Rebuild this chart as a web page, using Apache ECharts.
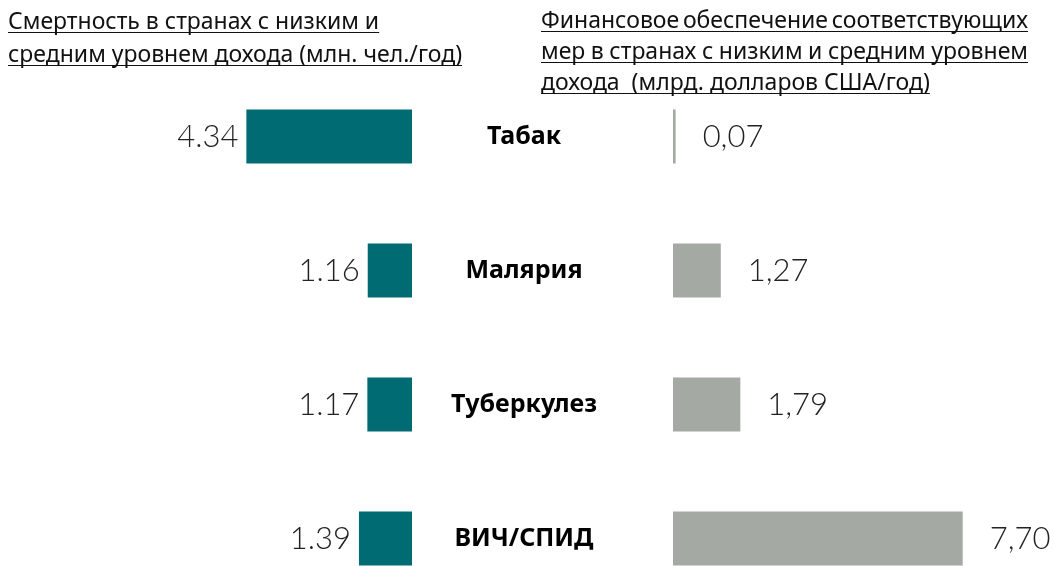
<!DOCTYPE html>
<html lang="ru" style="height: 100%">
<head>
  <meta charset="utf-8">
</head>
<body style="height: 100%; margin: 0; background: #fff; overflow: hidden">
  <div id="container" style="width: 1055px; height: 610px"></div>
  <script type="text/javascript" src="https://fastly.jsdelivr.net/npm/echarts@6/dist/echarts.min.js"></script>
  <script type="text/javascript">
var categories = ['Табак', 'Малярия', 'Туберкулез', 'ВИЧ/СПИД'];
var deaths = [4.34, 1.16, 1.17, 1.39];   // млн. чел./год
var funding = [0.07, 1.27, 1.79, 7.70];  // млрд. долларов США/год
var leftTitle = ['Смертность в странах с низким и', 'средним уровнем дохода (млн. чел./год)'];
var rightTitle = ['Финансовое обеспечение соответствующих', 'мер в странах с низким и средним уровнем', 'дохода  (млрд. долларов США/год)'];

var headFont = '"Noto Sans", sans-serif';
var headSize = 23;
var numFont = 'Lato, "Noto Sans", sans-serif';

var ctx = document.createElement('canvas').getContext('2d');
function textW(s) {
  ctx.font = headSize + 'px ' + headFont;
  return ctx.measureText(s).width;
}

// underlined header, optionally justified to a given width
function header(lines, x, midY, lineH, justW) {
  var els = [];
  lines.forEach(function (line, i) {
    var y = midY + i * lineH;
    var lineW = textW(line);
    if (justW && i < lines.length - 1) {
      var words = line.split(/\s+/);
      var sum = 0;
      words.forEach(function (w) { sum += textW(w); });
      var gap = (justW - sum) / (words.length - 1);
      var cx = x;
      words.forEach(function (w) {
        els.push({ type: 'text', x: cx, y: y, style: { text: w, font: headSize + 'px ' + headFont, fill: '#111', textVerticalAlign: 'middle' } });
        cx += textW(w) + gap;
      });
      lineW = justW;
    } else {
      els.push({ type: 'text', x: x, y: y, style: { text: line, font: headSize + 'px ' + headFont, fill: '#111', textVerticalAlign: 'middle' } });
    }
    els.push({ type: 'line', shape: { x1: x, y1: y + 10.5, x2: x + lineW, y2: y + 10.5 }, style: { stroke: '#111', lineWidth: 1 } });
  });
  return els;
}

var dom = document.getElementById('container');
var myChart = echarts.init(dom, null, { renderer: 'canvas' });

var option = {
  backgroundColor: '#fff',
  animation: false,
  graphic: header(leftTitle, 8, 22, 33, 0).concat(header(rightTitle, 541, 21, 31, 487)),
  grid: [
    { left: 183, width: 229, top: 69.5, height: 536 },
    { left: 673, width: 301, top: 69.5, height: 536 }
  ],
  xAxis: [
    { gridIndex: 0, type: 'value', inverse: true, min: 0, max: 6, show: false },
    { gridIndex: 1, type: 'value', min: 0, max: 8, show: false }
  ],
  yAxis: [
    {
      gridIndex: 0,
      type: 'category',
      data: categories,
      inverse: true,
      position: 'right',
      axisLine: { show: false },
      axisTick: { show: false },
      axisLabel: {
        margin: 112,
        align: 'center',
        fontFamily: '"Noto Sans", sans-serif',
        fontWeight: 'bold',
        fontSize: 25,
        color: '#000'
      }
    },
    { gridIndex: 1, type: 'category', data: categories, inverse: true, show: false }
  ],
  series: [
    {
      name: 'Смертность',
      type: 'bar',
      xAxisIndex: 0,
      yAxisIndex: 0,
      barWidth: 54,
      data: deaths,
      itemStyle: { color: '#016b74' },
      label: {
        show: true,
        position: 'left',
        distance: 8,
        formatter: function (p) { return p.value.toFixed(2); },
        fontFamily: numFont,
        fontWeight: 300,
        fontSize: 31,
        color: '#222'
      }
    },
    {
      name: 'Финансирование',
      type: 'bar',
      xAxisIndex: 1,
      yAxisIndex: 1,
      barWidth: 54,
      data: funding,
      itemStyle: { color: '#a4a9a3' },
      label: {
        show: true,
        position: 'right',
        distance: 27,
        formatter: function (p) { return p.value.toFixed(2).replace('.', ','); },
        fontFamily: numFont,
        fontWeight: 300,
        fontSize: 31,
        color: '#222'
      }
    }
  ]
};

myChart.setOption(option);
window.addEventListener('resize', myChart.resize);
  </script>
</body>
</html>
